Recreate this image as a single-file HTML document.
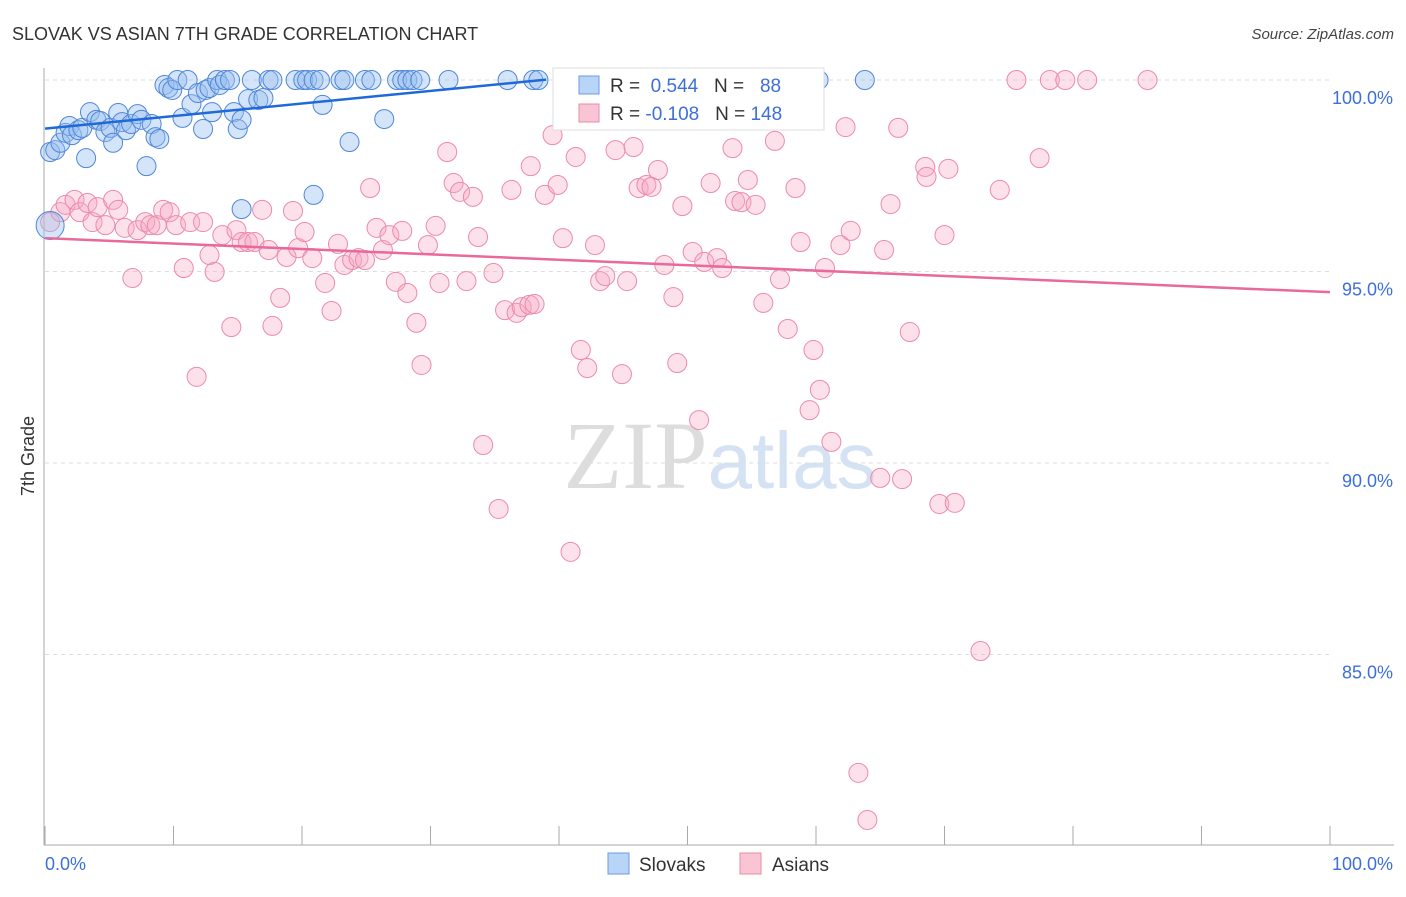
<!DOCTYPE html>
<html><head><meta charset="utf-8"><style>
body{margin:0;background:#fff;font-family:"Liberation Sans",sans-serif}
</style></head><body>
<svg width="1406" height="892" xmlns="http://www.w3.org/2000/svg" font-family="Liberation Sans, sans-serif">
<text x="12" y="40" font-size="18" fill="#333">SLOVAK VS ASIAN 7TH GRADE CORRELATION CHART</text>
<text x="1394" y="39" font-size="15" fill="#444" text-anchor="end" font-style="italic">Source: ZipAtlas.com</text>
<text x="720" y="488" font-size="96" text-anchor="middle"><tspan fill="#ddd" font-family="Liberation Serif, serif">ZIP</tspan><tspan fill="#d4e2f4" font-size="80">atlas</tspan></text>
<g id="grid"></g>
<g id="axes"></g>
<g id="pts"></g>
<g id="lines"></g>
<text x="34" y="456" font-size="18" fill="#333" text-anchor="middle" transform="rotate(-90 34 456)">7th Grade</text>
<text x="45" y="870" font-size="18" fill="#3d6fd8">0.0%</text>
<text x="1393" y="870" font-size="18" fill="#3d6fd8" text-anchor="end">100.0%</text>
<g>
<rect x="553" y="68" width="271" height="62" fill="#fff" stroke="#ddd"/>
<rect x="579" y="76" width="20" height="18" fill="#b8d4f6" stroke="#6a9be0"/>
<rect x="579" y="104" width="20" height="18" fill="#f9c4d4" stroke="#ec8aaa"/>
<text x="610" y="92" font-size="19" fill="#333">R = <tspan fill="#3d6fd8">&#160;0.544</tspan>&#160;&#160;&#160;N = <tspan fill="#3d6fd8">&#160;&#160;88</tspan></text>
<text x="610" y="120" font-size="19" fill="#333">R = <tspan fill="#3d6fd8">-0.108</tspan>&#160;&#160;&#160;N = <tspan fill="#3d6fd8">148</tspan></text>
</g>
<g>
<rect x="608" y="853" width="21" height="21" fill="#b8d4f6" stroke="#6a9be0"/>
<text x="639" y="871" font-size="19" fill="#333">Slovaks</text>
<rect x="740" y="853" width="21" height="21" fill="#f9c4d4" stroke="#ec8aaa"/>
<text x="772" y="871" font-size="19" fill="#333">Asians</text>
</g>
</svg>
<script>
const yTicks=[100,95,90,85];
const yTickLabels=["100.0%","95.0%","90.0%","85.0%"];
const xTicks=[0,10,20,30,40,50,60,70,80,90,100];
const slovakX=[0.4,0.8,1.2,1.6,1.9,2.1,2.6,2.9,3.2,3.5,4.0,4.3,4.7,5.1,5.3,5.7,6.0,6.3,6.7,7.2,7.5,7.9,8.3,8.6,8.9,9.3,9.6,9.9,10.3,10.7,11.1,11.4,11.9,12.3,12.5,12.8,13.0,13.4,13.6,14.0,14.4,14.7,15.0,15.3,15.8,16.1,16.6,17.0,17.4,17.7,19.5,20.1,20.4,20.9,21.4,21.6,23.0,23.3,23.7,24.9,25.4,26.4,27.4,27.8,28.2,28.6,29.2,31.4,36.0,38.0,38.4,15.3,20.9,49.6,51.8,60.2,63.8,0.4];
const slovakY=[98.12,98.17,98.36,98.62,98.8,98.56,98.69,98.75,97.96,99.16,98.96,98.93,98.64,98.75,98.36,99.14,98.9,98.69,98.85,99.11,98.96,97.75,98.85,98.51,98.46,99.87,99.79,99.74,100,99.01,100,99.37,99.66,98.72,99.74,99.79,99.16,100,99.87,100,100,99.16,98.72,98.96,99.5,100,99.48,99.53,100,100,100,100,100,100,100,99.35,100,100,98.38,100,100,98.98,100,100,100,100,100,100,100,100,100,96.63,97.0,100,100,100,100,96.2];
const asianX=[0.4,1.2,1.6,2.3,2.7,3.3,3.7,4.1,4.7,5.3,5.7,6.2,6.8,7.2,7.8,8.2,8.7,9.2,9.7,10.2,10.8,11.3,11.8,12.3,12.8,13.2,13.8,14.5,14.9,15.3,15.8,16.3,16.9,17.4,17.7,18.3,18.8,19.3,19.7,20.2,20.8,21.8,22.3,22.8,23.3,23.9,24.4,24.9,25.3,25.8,26.3,26.8,27.3,27.8,28.2,28.9,29.3,29.8,30.4,30.7,31.3,31.8,32.3,32.8,33.3,33.7,34.1,34.9,35.3,35.8,36.3,36.7,37.1,37.7,38.1,37.8,38.9,39.5,39.9,40.3,40.9,41.3,41.7,42.2,42.8,43.2,43.6,44.4,44.9,45.3,45.8,46.2,46.8,47.2,47.7,48.2,48.9,49.2,49.6,50.4,50.9,51.3,51.8,52.3,52.7,53.5,53.7,54.2,54.7,55.3,55.9,56.4,56.8,57.2,57.8,58.4,58.8,59.5,59.8,60.3,60.7,61.2,61.9,62.3,62.7,63.3,64.0,65.0,65.3,65.8,66.4,66.7,67.3,68.5,68.6,69.6,70.0,70.3,70.8,72.8,74.3,75.6,77.4,78.2,79.4,81.1,85.8];
const asianY=[96.29,96.55,96.74,96.87,96.55,96.79,96.29,96.68,96.21,96.87,96.61,96.14,94.83,96.08,96.29,96.21,96.21,96.61,96.55,96.21,95.09,96.29,92.25,96.29,95.43,94.99,95.95,93.55,96.08,95.77,95.77,95.77,96.61,95.56,93.58,94.31,95.38,96.58,95.61,96.03,95.35,94.7,93.97,95.72,95.17,95.3,95.35,95.3,97.18,96.14,95.56,95.95,94.73,96.06,94.44,93.66,92.56,95.69,96.19,94.7,98.12,97.31,97.08,94.75,96.95,95.9,90.47,94.96,88.8,93.99,97.13,93.92,94.07,94.13,94.15,97.75,97.0,98.56,97.26,95.87,87.68,97.99,92.95,92.48,95.69,94.75,94.88,98.17,92.32,94.75,98.25,97.18,97.26,97.21,97.65,95.17,94.33,92.61,96.71,95.51,91.12,95.25,97.31,95.35,95.09,98.22,96.84,96.81,97.39,96.74,94.18,98.98,98.41,94.8,93.5,97.18,95.77,91.38,92.95,91.91,95.09,90.55,95.69,98.77,96.06,81.91,80.68,89.61,95.56,96.76,98.75,89.58,93.42,97.73,97.47,88.93,95.95,97.68,88.96,85.09,97.13,100,97.96,100,100,100,100];
const slovakTrend=[[0,98.73],[39,100.01]];
const asianTrend=[[0,95.87],[100,94.46]];
const NS='http://www.w3.org/2000/svg';
const X=v=>45+v*12.85, Y=v=>80+(100-v)*38.3;
function mk(t,a,p){const e=document.createElementNS(NS,t);for(const k in a)e.setAttribute(k,a[k]);p.appendChild(e);return e;}
const grid=document.getElementById('grid'),axes=document.getElementById('axes'),pts=document.getElementById('pts'),lines=document.getElementById('lines');
yTicks.forEach((t,i)=>{
 const l=mk('line',{x1:45,x2:1330,y1:Y(t),y2:Y(t),stroke:'#ddd','stroke-dasharray':'4,4'},grid);
 
 
 const tx=mk('text',{x:1393,y:Y(t)+24,'font-size':18,fill:'#3d6fd8','text-anchor':'end'},grid);
 tx.textContent=yTickLabels[i];
 
 
});
const ya=mk('line',{x1:44,x2:44,y1:68,y2:845,stroke:'#aaa'},axes);


const xa=mk('line',{x1:44,x2:1394,y1:845,y2:845,stroke:'#aaa'},axes);


xTicks.forEach(t=>{
 const l=mk('line',{x1:X(t),x2:X(t),y1:826,y2:845,stroke:'#aaa'},axes);
 
 
});
asianX.forEach((x,i)=>{
 const c=mk('circle',{cx:X(x),cy:Y(asianY[i]),r:9.5,fill:'rgba(246,170,195,0.35)',stroke:'#ec8aaa','stroke-width':1},pts);
 
 
});
slovakX.forEach((x,i)=>{
 const c=mk('circle',{cx:X(x),cy:Y(slovakY[i]),r:i==slovakX.length-1?14:9.5,fill:'rgba(150,190,240,0.4)',stroke:'#4f86d8','stroke-width':1},pts);
 
 
});
[[slovakTrend,'#1f6ad8','slovak-trend-line'],[asianTrend,'#e8699a','asian-trend-line']].forEach(([tr,col,n])=>{
 const l=mk('line',{x1:X(tr[0][0]),y1:Y(tr[0][1]),x2:X(tr[1][0]),y2:Y(tr[1][1]),stroke:col,'stroke-width':2.5},lines);
 
 
});
</script>
</body></html>
